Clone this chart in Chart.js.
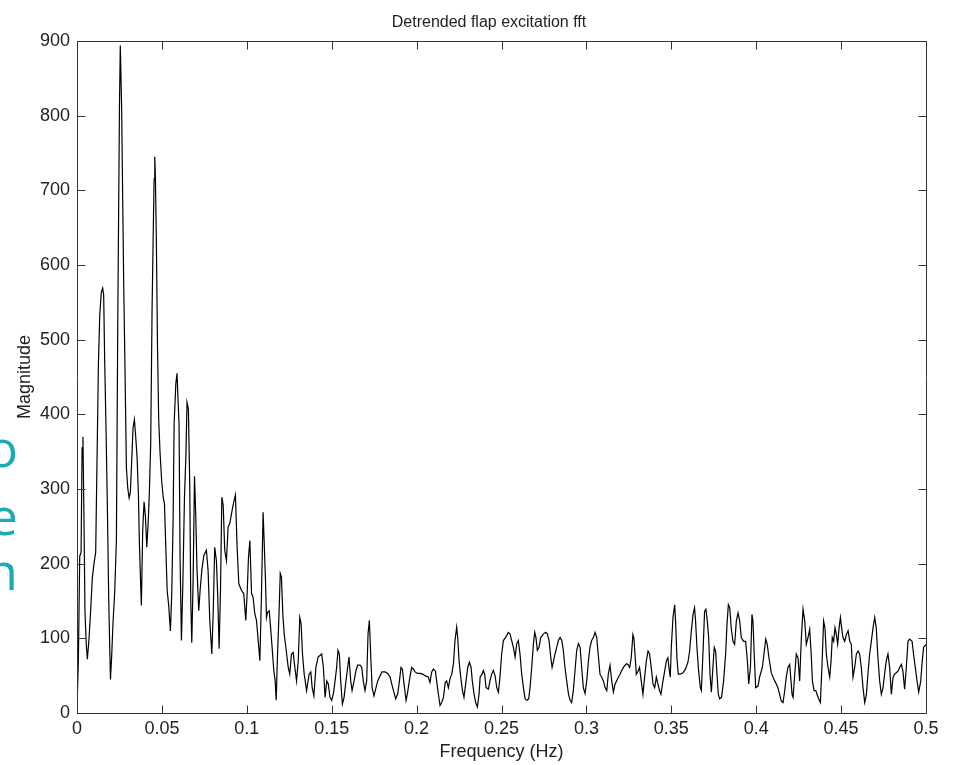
<!DOCTYPE html>
<html lang="en">
<head>
    <meta charset="UTF-8">
    <title>Detrended flap excitation fft</title>
    <script src="https://cdn.jsdelivr.net/npm/chart.js@4.4.1/dist/chart.umd.min.js"></script>
    <style>
        body {
            margin: 0;
            background: #fff;
        }
        .page {
            position: relative;
            width: 956px;
            height: 765px;
            overflow: hidden;
        }
        .page canvas {
            position: absolute;
            left: 0;
            top: 0;
        }
        .slide-letter {
            position: absolute;
            left: -42px;
            width: 60px;
            text-align: right;
            font-family: 'Open Sans', sans-serif;
            font-size: 52px;
            line-height: 52px;
            color: #1aabb3;
        }
    </style>
</head>
<body>
    <div class="page">
        <canvas id="fftChart" width="956" height="765"></canvas>
        <div class="slide-letter" style="top: 421px;">o</div>
        <div class="slide-letter" style="top: 489px;">e</div>
        <div class="slide-letter" style="top: 544px;">n</div>
    </div>

    <script>
        // FFT magnitude of the detrended flap excitation signal
        const freq = [
            0, 0.0008, 0.0016, 0.0024, 0.003, 0.0035, 0.0041, 0.0047, 0.0055, 0.0061,
            0.0071, 0.0081, 0.009, 0.01, 0.011, 0.0118, 0.0126, 0.0134, 0.0143, 0.0151,
            0.0157, 0.0163, 0.0171, 0.0179, 0.0187, 0.0197, 0.0204, 0.0212, 0.0222, 0.0232,
            0.024, 0.025, 0.0255, 0.0263, 0.0269, 0.0275, 0.0283, 0.0291, 0.0299, 0.0307,
            0.0314, 0.0322, 0.033, 0.0338, 0.0346, 0.0354, 0.0362, 0.0367, 0.0373, 0.0379,
            0.0387, 0.0395, 0.0403, 0.0411, 0.0419, 0.0426, 0.0434, 0.0442, 0.0448, 0.0454,
            0.0458, 0.0462, 0.0468, 0.0474, 0.0481, 0.0489, 0.0499, 0.0507, 0.0515, 0.0523,
            0.0531, 0.054, 0.055, 0.0558, 0.0566, 0.0572, 0.0582, 0.0589, 0.0595, 0.0601,
            0.0607, 0.0615, 0.0623, 0.0633, 0.0641, 0.0648, 0.0656, 0.0664, 0.067, 0.0676,
            0.0684, 0.0692, 0.0699, 0.0707, 0.0717, 0.0725, 0.0735, 0.0747, 0.0762, 0.0772,
            0.0782, 0.0794, 0.0802, 0.0811, 0.0821, 0.0829, 0.0837, 0.0845, 0.0853, 0.0861,
            0.087, 0.088, 0.089, 0.09, 0.091, 0.0919, 0.0933, 0.0943, 0.0953, 0.0969,
            0.0982, 0.0994, 0.1002, 0.101, 0.1018, 0.1028, 0.1037, 0.1047, 0.1057, 0.1067,
            0.1077, 0.1086, 0.1096, 0.1102, 0.111, 0.1116, 0.1122, 0.1132, 0.114, 0.1149,
            0.1159, 0.1167, 0.1173, 0.1181, 0.1189, 0.1197, 0.1204, 0.1212, 0.122, 0.123,
            0.1244, 0.1253, 0.1263, 0.1273, 0.1283, 0.1293, 0.1303, 0.1312, 0.132, 0.1328,
            0.1338, 0.1352, 0.1367, 0.1377, 0.1385, 0.1395, 0.1407, 0.142,
            0.1441, 0.1451, 0.1461, 0.1471, 0.148, 0.149, 0.15, 0.151, 0.152, 0.1529,
            0.1537, 0.1545, 0.1553, 0.1563, 0.1573, 0.1584, 0.1594, 0.1602, 0.1612, 0.162,
            0.1632, 0.1643, 0.1653, 0.1667, 0.1677, 0.1686, 0.1696, 0.1706, 0.1714, 0.1722,
            0.173, 0.1738, 0.1749, 0.1761, 0.1771, 0.1785, 0.1796, 0.1814, 0.183, 0.1844,
            0.1859, 0.1877, 0.1889, 0.1899, 0.1908, 0.1916, 0.1926, 0.1938, 0.1946, 0.1957,
            0.1971, 0.1981, 0.1991, 0.2005, 0.202, 0.2036, 0.205, 0.2069, 0.2079, 0.2089,
            0.2099, 0.2111, 0.2118, 0.2128, 0.2138, 0.2148, 0.2158, 0.2169, 0.2177, 0.2187,
            0.2197, 0.2207, 0.2217, 0.2226, 0.2236, 0.2242, 0.225, 0.226, 0.227, 0.2279,
            0.2289, 0.2301, 0.2311, 0.2321, 0.2328, 0.2338, 0.2348, 0.2358, 0.2368, 0.2374,
            0.2385, 0.2393, 0.2401, 0.2409, 0.2423, 0.2432, 0.2442, 0.2452, 0.2462, 0.2472,
            0.2482, 0.2491, 0.2501, 0.2511, 0.2523, 0.2531, 0.254, 0.255, 0.256, 0.257,
            0.258, 0.259, 0.2599, 0.2609, 0.2619, 0.2629, 0.2639, 0.2648, 0.266, 0.2668,
            0.2678, 0.2688, 0.2696, 0.2703, 0.2711, 0.2721, 0.2731, 0.2747, 0.276, 0.277,
            0.278, 0.279, 0.2798, 0.2805, 0.2815, 0.2825, 0.2835, 0.2845, 0.2855, 0.2864,
            0.2874, 0.2884, 0.2894, 0.2904, 0.2913, 0.2923, 0.2933, 0.2943, 0.2953, 0.2963,
            0.2972, 0.2982, 0.2992, 0.3002, 0.3012, 0.3021, 0.3031, 0.3041, 0.3051, 0.3061,
            0.3071, 0.308, 0.309, 0.31, 0.311, 0.312, 0.3129, 0.3139, 0.3149, 0.3159,
            0.3169, 0.3178, 0.3188, 0.3198, 0.3208, 0.3218, 0.3228, 0.3237,
            0.3245, 0.3255, 0.3264, 0.3274, 0.328, 0.3286, 0.3294, 0.3304, 0.3313, 0.3323,
            0.3333, 0.3343, 0.3353, 0.3363, 0.3372, 0.3382, 0.3392, 0.3402, 0.3412, 0.3421,
            0.3431, 0.3439, 0.3451, 0.3461, 0.3471, 0.348, 0.3486, 0.3494, 0.35, 0.351,
            0.352, 0.3526, 0.3533, 0.3541, 0.3553, 0.3569, 0.3584, 0.3598, 0.3608, 0.3618,
            0.3628, 0.3637, 0.3643, 0.3651, 0.3661, 0.3671, 0.3677, 0.3687, 0.3696, 0.3704,
            0.3712, 0.372, 0.3728, 0.3736, 0.3745, 0.3753, 0.3761, 0.3769, 0.3777, 0.3785,
            0.3796, 0.3808, 0.382, 0.3828, 0.3836, 0.3844, 0.3853, 0.3863, 0.3873, 0.3883,
            0.3893, 0.3903, 0.3912, 0.3926, 0.3938, 0.3948, 0.3956, 0.3966, 0.3975, 0.3981,
            0.3989, 0.3997, 0.4011, 0.402, 0.4036, 0.4048, 0.4056, 0.4065, 0.4075, 0.4089,
            0.4099, 0.4109, 0.4118, 0.4128, 0.4138, 0.4148, 0.4158, 0.4168, 0.4177, 0.4187,
            0.4197, 0.4205, 0.4211, 0.4217, 0.4227, 0.4236, 0.4246, 0.4256, 0.4266, 0.4276,
            0.4286, 0.4295, 0.4305, 0.4315, 0.4323, 0.4331, 0.4341, 0.4351, 0.4358, 0.4368,
            0.4378, 0.4387, 0.4397, 0.4405, 0.4413, 0.4423, 0.4433, 0.4441, 0.4448, 0.4456,
            0.4464, 0.4472, 0.448, 0.4488, 0.4496, 0.4503, 0.4511, 0.4521, 0.4531, 0.4541,
            0.4551, 0.456, 0.457, 0.458, 0.459, 0.46, 0.4609, 0.4619, 0.4629, 0.4639,
            0.4649, 0.4658, 0.4668, 0.4678, 0.4688, 0.4698, 0.4707, 0.4717, 0.4727, 0.4737,
            0.4747, 0.4756, 0.4766, 0.4776, 0.4786, 0.4796, 0.4806, 0.4815, 0.4825, 0.4835,
            0.4845, 0.4855, 0.4864, 0.4874, 0.4884, 0.4894, 0.4904, 0.4918, 0.4927, 0.4937,
            0.4947, 0.4957, 0.4969, 0.4978, 0.4986, 0.5
        ];
        const mag = [
            5, 70, 210, 215, 355, 370, 260, 135, 90, 72,
            100, 140, 180, 200, 215, 340, 466, 533, 563, 569,
            560, 472, 380, 274, 150, 45, 75, 120, 162, 231,
            520, 810, 894, 810, 690, 576, 455, 328, 301, 288,
            295, 337, 382, 393, 369, 342, 290, 231, 187, 144,
            245, 283, 263, 222, 254, 294, 360, 538, 628, 715,
            745, 715, 620, 493, 394, 349, 310, 290, 280, 222,
            164, 144, 110, 160, 258, 387, 441, 455, 420, 387,
            209, 97, 169, 290, 342, 416, 407, 306, 150, 94,
            180, 317, 267, 191, 137, 164, 191, 211, 218, 191,
            124, 79, 133, 222, 204, 155, 86, 164, 289, 278,
            218, 204, 249, 254, 267, 278, 292, 222, 173, 164,
            160, 124, 160, 209, 231, 160, 155, 133, 124, 97,
            70, 155, 269, 231, 178, 128, 135, 137, 115, 88,
            57, 43, 17, 79, 128, 187, 182, 133, 106, 88,
            61, 52, 79, 81, 61, 43, 70, 128, 119, 79,
            52, 30, 52, 55, 34, 23, 61, 75,
            79, 61, 21, 43, 39, 21, 17, 26, 43, 61,
            84, 79, 43, 12, 21, 43, 61, 75, 43, 30,
            43, 57, 64, 64, 61, 43, 30, 43, 106, 124,
            75, 34, 23, 34, 43, 50, 55, 55, 53, 48,
            34, 19, 26, 43, 61, 59, 39, 17, 26, 43,
            61, 59, 55, 53, 53, 52, 50, 48, 41, 55,
            59, 56, 43, 26, 10, 14, 21, 41, 43, 34,
            46, 52, 66, 97, 115, 101, 70, 48, 30, 21,
            39, 61, 68, 61, 43, 26, 14, 8, 26, 48,
            52, 57, 52, 34, 32, 43, 52, 57, 50, 34,
            28, 48, 79, 97, 101, 104, 108, 106, 97, 88,
            75, 93, 97, 79, 52, 34, 19, 17, 19, 34,
            61, 93, 108, 101, 84, 88, 101, 106, 108, 106,
            97, 75, 61, 68, 79, 88, 97, 101, 97, 84,
            61, 43, 26, 17, 14, 30, 57, 84, 93, 88,
            61, 34, 26, 43, 70, 88, 97, 101, 108, 101,
            75, 52, 48, 43, 34, 30, 52, 64, 43, 28,
            39, 43, 48, 52, 57, 61, 64, 66,
            65, 61, 74, 105, 100, 79, 52, 56, 61, 43,
            25, 48, 70, 83, 79, 61, 39, 34, 48, 39,
            30, 25, 43, 56, 70, 74, 61, 48, 88, 128,
            145, 119, 74, 52, 52, 54, 59, 68, 83, 110,
            132, 141, 123, 88, 56, 34, 30, 83, 136, 139,
            123, 101, 52, 28, 61, 88, 83, 52, 25, 19,
            21, 43, 79, 119, 145, 141, 114, 96, 92, 123,
            134, 123, 101, 96, 96, 70, 39, 61, 132, 123,
            74, 34, 36, 48, 61, 83, 99, 92, 74, 54,
            48, 43, 39, 34, 25, 16, 14, 30, 48, 61,
            65, 43, 25, 21, 52, 79, 74, 43, 101, 139,
            123, 92, 101, 112, 83, 43, 30, 30, 25, 19,
            14, 61, 123, 114, 79, 61, 48, 70, 101, 96,
            114, 105, 92, 114, 128, 114, 101, 96, 105, 110,
            96, 92, 48, 61, 79, 83, 79, 61, 34, 14,
            25, 52, 79, 96, 114, 128, 114, 74, 43, 25,
            34, 52, 70, 79, 61, 25, 48, 52, 54, 56,
            61, 65, 56, 32, 61, 96, 99, 96, 78, 61,
            43, 28, 43, 70, 88, 92
        ];
        const xTicks = [0, 0.05, 0.1, 0.15, 0.2, 0.25, 0.3, 0.35, 0.4, 0.45, 0.5];
        const yTicks = [0, 100, 200, 300, 400, 500, 600, 700, 800, 900];

        const plotTitle = 'Detrended flap excitation fft';
        const xLabel = 'Frequency (Hz)';
        const yLabel = 'Magnitude';

        const FONT = "'Liberation Sans', Arial, Helvetica, sans-serif";
        const INK = '#222';
        Chart.defaults.font.family = FONT;

        // box around the plot with ticks pointing inwards on all four sides, plus the title
        const framePlugin = {
            id: 'frame',
            afterDatasetsDraw(chart) {
                const { ctx, chartArea: a, scales: { x, y } } = chart;
                const L = Math.round(a.left) + 0.5, R = Math.round(a.right) + 0.5;
                const T = Math.round(a.top) + 0.5, B = Math.round(a.bottom) + 0.5;
                const len = 8;
                ctx.save();
                ctx.strokeStyle = '#333';
                ctx.lineWidth = 1;
                ctx.beginPath();
                ctx.rect(L, T, R - L, B - T);
                x.ticks.forEach(t => {
                    const px = Math.round(x.getPixelForValue(t.value)) + 0.5;
                    ctx.moveTo(px, B); ctx.lineTo(px, B - len);
                    ctx.moveTo(px, T); ctx.lineTo(px, T + len);
                });
                y.ticks.forEach(t => {
                    const py = Math.round(y.getPixelForValue(t.value)) + 0.5;
                    ctx.moveTo(L, py); ctx.lineTo(L + len, py);
                    ctx.moveTo(R, py); ctx.lineTo(R - len, py);
                });
                ctx.stroke();

                ctx.fillStyle = INK;
                ctx.font = '16px ' + FONT;
                ctx.textAlign = 'center';
                ctx.textBaseline = 'alphabetic';
                ctx.fillText(plotTitle, 489, 27);
                ctx.restore();
            }
        };

        new Chart(document.getElementById('fftChart'), {
            type: 'line',
            data: {
                datasets: [{
                    data: freq.map((f, i) => ({ x: f, y: mag[i] })),
                    borderColor: '#000',
                    borderWidth: 1.2,
                    pointRadius: 0,
                    tension: 0,
                    fill: false
                }]
            },
            options: {
                responsive: false,
                animation: false,
                layout: { padding: { top: 41, right: 30, left: 0, bottom: 0 } },
                plugins: {
                    legend: { display: false },
                    tooltip: { enabled: false }
                },
                scales: {
                    x: {
                        type: 'linear',
                        min: 0,
                        max: 0.5,
                        afterBuildTicks: s => { s.ticks = xTicks.map(v => ({ value: v })); },
                        afterFit: s => { s.height = 52; },
                        grid: { display: false, drawTicks: false },
                        border: { display: false },
                        ticks: {
                            color: INK,
                            font: { size: 18 },
                            padding: 5,
                            maxRotation: 0,
                            autoSkip: false,
                            callback: v => String(v)
                        },
                        title: {
                            display: true,
                            text: xLabel,
                            color: INK,
                            font: { size: 18 },
                            padding: { top: 0, bottom: 2 }
                        }
                    },
                    y: {
                        min: 0,
                        max: 900,
                        afterBuildTicks: s => { s.ticks = yTicks.map(v => ({ value: v })); },
                        afterFit: s => { s.width = 77; },
                        grid: { display: false, drawTicks: false },
                        border: { display: false },
                        ticks: {
                            color: INK,
                            font: { size: 18 },
                            padding: 7,
                            autoSkip: false
                        },
                        title: {
                            display: true,
                            text: yLabel,
                            color: INK,
                            font: { size: 18 },
                            padding: { top: 14, bottom: 0 }
                        }
                    }
                }
            },
            plugins: [framePlugin]
        });
    </script>
</body>
</html>
